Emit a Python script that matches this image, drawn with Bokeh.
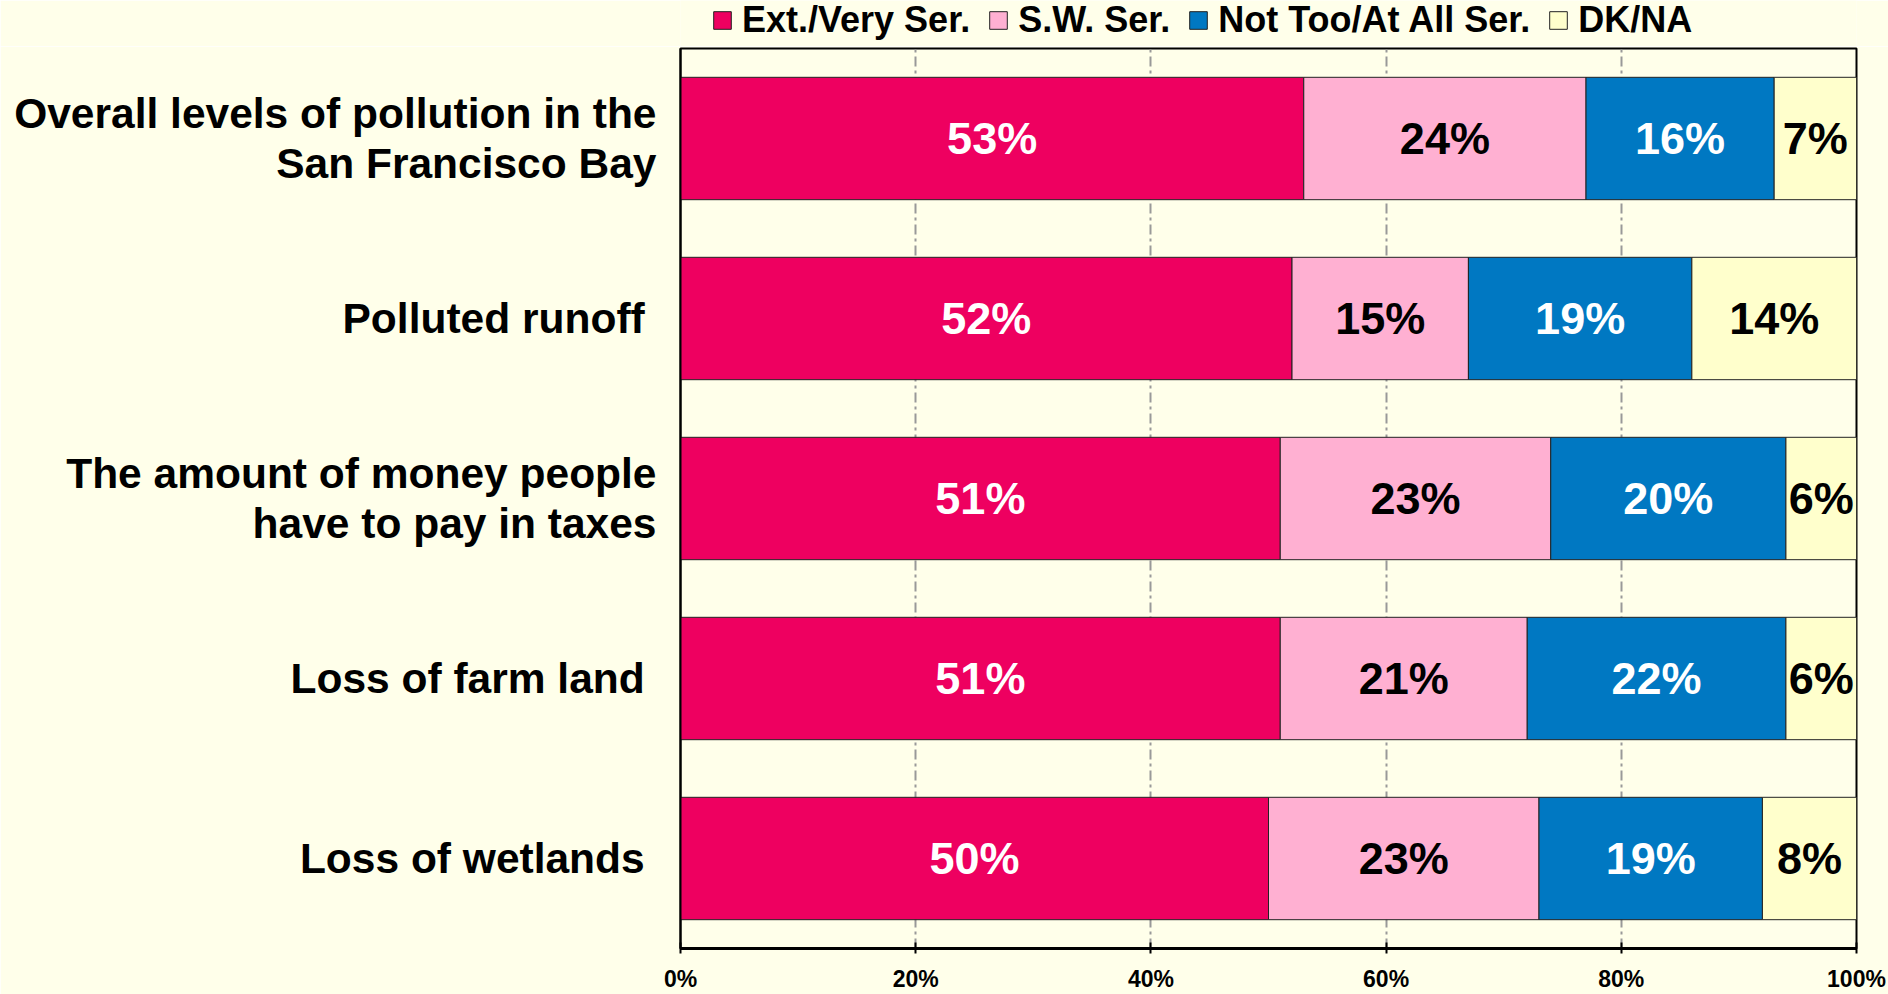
from bokeh.plotting import figure
from bokeh.layouts import column
from bokeh.models import (ColumnDataSource, Legend, LegendItem, FixedTicker,
                          PrintfTickFormatter)
from bokeh.core.properties import value
from bokeh.embed import file_html
from bokeh.resources import INLINE

# ---- data ----
categories = [
    "Overall levels of pollution in the\nSan Francisco Bay",
    "Polluted runoff\u00a0",
    "The amount of money people\nhave to pay in taxes",
    "Loss of farm land\u00a0",
    "Loss of wetlands\u00a0",
]
ext_very = [53, 52, 51, 51, 50]
sw_ser = [24, 15, 23, 21, 23]
not_too = [16, 19, 20, 22, 19]
dk_na = [7, 14, 6, 6, 8]
series_names = ["Ext./Very Ser.", "S.W. Ser.", "Not Too/At All Ser.", "DK/NA"]
x_ticks = [0, 20, 40, 60, 80, 100]

colors = ["#EE0060", "#FFB0D2", "#0078C2", "#FFFFCC"]
label_colors = ["white", "black", "white", "black"]
BG = "#FFFFEA"
FONT = "Liberation Sans"

W = 1888
LEG_H = 46
H = 994 - LEG_H
TOP = 2
BOTTOM = 44

keys = ["ext", "sw", "nt", "dk"]
data = dict(cat=categories, ext=ext_very, sw=sw_ser, nt=not_too, dk=dk_na)
source = ColumnDataSource(data)

p = figure(width=W, height=H, y_range=list(reversed(categories)),
           x_range=(0, 100), output_backend="svg", toolbar_location=None,
           min_border_left=680, min_border_right=32, min_border_top=TOP,
           min_border_bottom=BOTTOM)
p.background_fill_color = BG
p.border_fill_color = BG
p.outline_line_color = "black"
p.outline_line_width = 2

rs = p.hbar_stack(keys, y="cat", height=0.68, color=colors, source=source,
                  line_color="#222222", line_width=1)

# segment labels
series_vals = [ext_very, sw_ser, not_too, dk_na]
cum = [0] * len(categories)
for vals, lc in zip(series_vals, label_colors):
    mids = [c + v / 2 for c, v in zip(cum, vals)]
    txt = ["%d%%" % v for v in vals]
    cum = [c + v for c, v in zip(cum, vals)]
    s = ColumnDataSource(dict(x=mids, y=categories, t=txt))
    p.text(x="x", y="y", text="t", source=s, text_align="center",
           text_baseline="middle", text_color=lc, text_font=value(FONT),
           text_font_style="bold", text_font_size="45px")

# axes
p.xaxis.ticker = FixedTicker(ticks=x_ticks)
p.xaxis.formatter = PrintfTickFormatter(format="%d%%")
p.xaxis.axis_line_width = 3
p.xaxis.axis_line_color = "black"
p.xaxis.major_tick_in = 6
p.xaxis.major_tick_out = 5
p.xaxis.major_tick_line_width = 2
p.xaxis.minor_tick_line_color = None
p.xaxis.major_label_standoff = 12
p.xaxis.major_label_text_font = FONT
p.xaxis.major_label_text_font_style = "bold"
p.xaxis.major_label_text_font_size = "23px"
p.xaxis.major_label_text_color = "black"

p.yaxis.axis_line_width = 2
p.yaxis.axis_line_color = "black"
p.yaxis.major_tick_line_color = None
p.yaxis.minor_tick_line_color = None
p.yaxis.major_tick_in = 0
p.yaxis.major_tick_out = 0
p.yaxis.major_label_standoff = 24
p.yaxis.major_label_text_font = FONT
p.yaxis.major_label_text_font_style = "bold"
p.yaxis.major_label_text_font_size = "42.5px"
p.yaxis.major_label_text_line_height = 1.05
p.yaxis.major_label_text_color = "black"

p.ygrid.grid_line_color = None
p.xgrid.ticker = FixedTicker(ticks=[20, 40, 60, 80])
p.xgrid.grid_line_color = "#999999"
p.xgrid.grid_line_width = 2
p.xgrid.grid_line_dash = "10 4 3 4"

# ---- legend strip above the chart (frame aligned with the chart frame) ----
pl = figure(width=W, height=LEG_H, x_range=(0, 1), y_range=(0, 1),
            output_backend="svg", toolbar_location=None,
            min_border_left=0, min_border_right=0, min_border_top=0,
            min_border_bottom=0)
pl.axis.visible = False
pl.grid.visible = False
pl.outline_line_color = None
pl.background_fill_color = BG
pl.border_fill_color = BG
leg_rs = [pl.hbar(y=[-5], right=[-5], left=[-6], height=0.5, fill_color=c,
                  line_color="#222222", line_width=1) for c in colors]
legend = Legend(items=[LegendItem(label=n, renderers=[r]) for n, r in zip(series_names, leg_rs)],
                orientation="horizontal", location=(31, 5))
legend.background_fill_alpha = 0
legend.border_line_alpha = 0
legend.label_text_font = FONT
legend.label_text_font_style = "bold"
legend.label_text_font_size = "36px"
legend.label_text_color = "black"
legend.glyph_width = 22
legend.glyph_height = 22
legend.label_standoff = 9
legend.spacing = 17
legend.padding = 0
legend.margin = 0
pl.add_layout(legend, "center")

layout = column(pl, p, spacing=0)
html = file_html(layout, INLINE)
html = html.replace("<body>", '<body style="background-color:%s;">' % BG, 1)
open("out.html", "w").write(html)
